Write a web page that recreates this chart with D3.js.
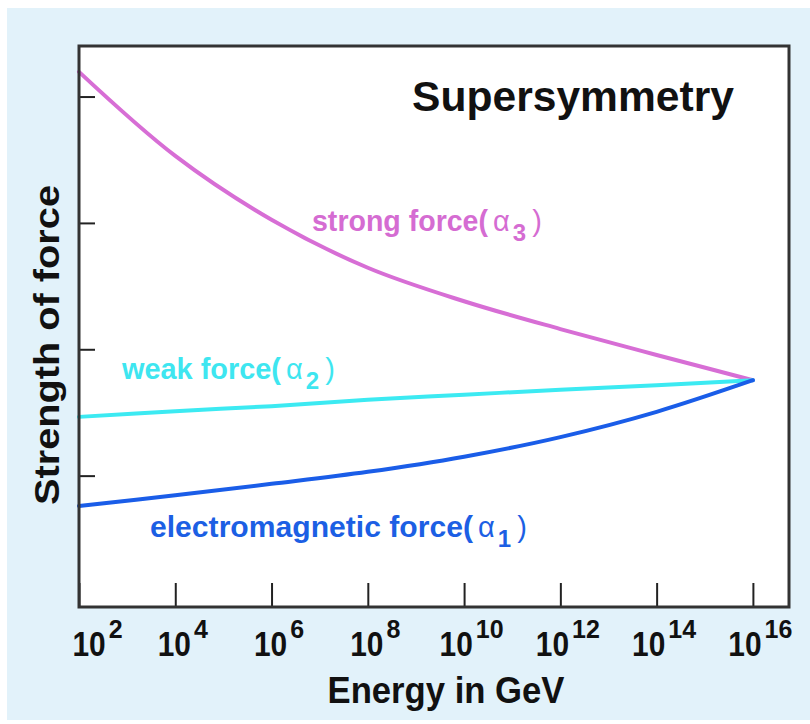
<!DOCTYPE html>
<html>
<head>
<meta charset="utf-8">
<script src="https://cdn.jsdelivr.net/npm/d3@7"></script>
<style>
  html, body { margin: 0; padding: 0; background: #ffffff; }
  svg { display: block; }
  text { font-family: "Liberation Sans", Arial, Helvetica, sans-serif; }
</style>
</head>
<body>
<svg id="chart" width="810" height="724"></svg>
<script>
// Energy scale: powers of ten (GeV) at which the couplings are sampled
const exponents = [2, 4, 6, 8, 10, 12, 14, 16];

// Coupling strengths (alpha) at each energy
const strongAlpha = [0.0839, 0.0706, 0.0605, 0.0529, 0.0476, 0.0432, 0.0391, 0.0351];
const weakAlpha   = [0.0293, 0.0302, 0.0310, 0.0320, 0.0328, 0.0336, 0.0343, 0.0351];
const emAlpha     = [0.0152, 0.0169, 0.0187, 0.0206, 0.0230, 0.0261, 0.0301, 0.0351];

const seriesNames = ["strong force", "weak force", "electromagnetic force"];
const seriesIndex = ["3", "2", "1"];

// Unlabelled tick marks on the strength axis
const strengthTicks = [0.02, 0.04, 0.06, 0.08];

const titleText = "Supersymmetry";
const xTitle = "Energy in GeV";
const yTitle = "Strength of force";

const svg = d3.select("#chart");
const frame = { left: 79, right: 789, top: 46, bottom: 607 };

// page background and plot area
svg.append("rect")
  .attr("x", 7).attr("y", 8).attr("width", 803).attr("height", 712)
  .attr("fill", "#e2f2fa");
svg.append("rect")
  .attr("x", frame.left).attr("y", frame.top)
  .attr("width", frame.right - frame.left).attr("height", frame.bottom - frame.top)
  .attr("fill", "#ffffff");

const x = d3.scaleLog()
  .domain([1e2, Math.pow(10, 16.75)])
  .range([frame.left, frame.right]);
const y = d3.scaleLinear()
  .domain([0, 0.088])
  .range([602, frame.top]);

const series = [
  { name: seriesNames[0], sub: seriesIndex[0], values: strongAlpha, color: "#d76ed5", text: "#d56cd2", lx: 312, ly: 231, len: 176 },
  { name: seriesNames[1], sub: seriesIndex[1], values: weakAlpha,   color: "#3ceaf2", text: "#3ee6f0", lx: 122, ly: 379, len: 159 },
  { name: seriesNames[2], sub: seriesIndex[2], values: emAlpha,     color: "#1a5de8", text: "#1c5fe4", lx: 150, ly: 537, len: 323 }
];

const line = d3.line()
  .x((d, i) => x(Math.pow(10, exponents[i])))
  .y(d => y(d))
  .curve(d3.curveCatmullRom.alpha(0.5));

// coupling curves
svg.append("g")
  .selectAll("path")
  .data(series)
  .join("path")
  .attr("d", s => line(s.values))
  .attr("fill", "none")
  .attr("stroke", s => s.color)
  .attr("stroke-width", 4)
  .attr("stroke-linecap", "round")
  .attr("stroke-linejoin", "round");

// curve labels: name( alpha_n )
series.forEach(s => {
  const g = svg.append("g").attr("fill", s.text);
  let cx = s.lx;
  g.append("text")
    .attr("x", cx).attr("y", s.ly)
    .attr("font-size", 29).attr("font-weight", "bold")
    .attr("textLength", s.len).attr("lengthAdjust", "spacingAndGlyphs")
    .text(s.name + "(");
  cx += s.len + 5;
  const a = g.append("text")
    .attr("x", cx).attr("y", s.ly)
    .attr("font-size", 29)
    .text("\u03b1");
  cx += a.node().getComputedTextLength() + 3;
  const sub = g.append("text")
    .attr("x", cx).attr("y", s.ly + 10)
    .attr("font-size", 24).attr("font-weight", "bold")
    .text(s.sub);
  cx += sub.node().getComputedTextLength() + 6;
  g.append("text")
    .attr("x", cx).attr("y", s.ly)
    .attr("font-size", 29)
    .text(")");
});

// x axis: inward ticks with 10^n labels
const xAxis = d3.axisBottom(x)
  .tickValues(exponents.map(e => Math.pow(10, e)))
  .tickSize(-24)
  .tickFormat("");
const gx = svg.append("g")
  .attr("transform", `translate(0,${frame.bottom})`)
  .call(xAxis);
gx.select(".domain").remove();
gx.selectAll(".tick line").attr("stroke", "#222").attr("stroke-width", 2);
gx.selectAll(".tick text").remove();
gx.selectAll(".tick").each(function (d, i) {
  const lab = d3.select(this).append("g")
    .attr("fill", "#111")
    .attr("font-weight", "bold")
    .attr("text-anchor", "start")
    .attr("font-family", "'Liberation Sans', Arial, Helvetica, sans-serif");
  // narrow, tall "10" base
  const base = lab.append("text")
    .attr("font-size", 36)
    .text("10");
  const squeeze = 0.83;
  const baseW = base.node().getComputedTextLength() * squeeze;
  const sup = lab.append("text")
    .attr("y", 31)
    .attr("font-size", 25)
    .text(exponents[i]);
  const supW = sup.node().getComputedTextLength();
  const w = baseW + 3 + supW;
  let start = -w / 2 + 7;
  const tickX = x(d);
  if (tickX + start < 72) start = 72 - tickX;
  base.attr("transform", `translate(${start},49) scale(${squeeze},1)`);
  sup.attr("x", start + baseW + 3);
});

// y axis: inward unlabelled ticks
const gy = svg.append("g")
  .attr("transform", `translate(${frame.left},0)`)
  .call(d3.axisLeft(y).tickValues(strengthTicks).tickSize(-16).tickFormat(""));
gy.select(".domain").remove();
gy.selectAll(".tick line").attr("stroke", "#222").attr("stroke-width", 2);
gy.selectAll(".tick text").remove();

// plot frame
svg.append("rect")
  .attr("x", frame.left).attr("y", frame.top)
  .attr("width", frame.right - frame.left).attr("height", frame.bottom - frame.top)
  .attr("fill", "none")
  .attr("stroke", "#333")
  .attr("stroke-width", 3);

// titles
svg.append("text")
  .attr("x", 412).attr("y", 111)
  .attr("font-size", 43).attr("font-weight", "bold")
  .attr("fill", "#111")
  .attr("textLength", 322).attr("lengthAdjust", "spacingAndGlyphs")
  .text(titleText);

svg.append("text")
  .attr("x", 446).attr("y", 703)
  .attr("text-anchor", "middle")
  .attr("font-size", 36).attr("font-weight", "bold")
  .attr("fill", "#111")
  .attr("textLength", 237).attr("lengthAdjust", "spacingAndGlyphs")
  .text(xTitle);

svg.append("text")
  .attr("transform", "translate(59,345) rotate(-90)")
  .attr("text-anchor", "middle")
  .attr("font-size", 35).attr("font-weight", "bold")
  .attr("fill", "#111")
  .attr("textLength", 320).attr("lengthAdjust", "spacingAndGlyphs")
  .text(yTitle);
</script>
</body>
</html>
